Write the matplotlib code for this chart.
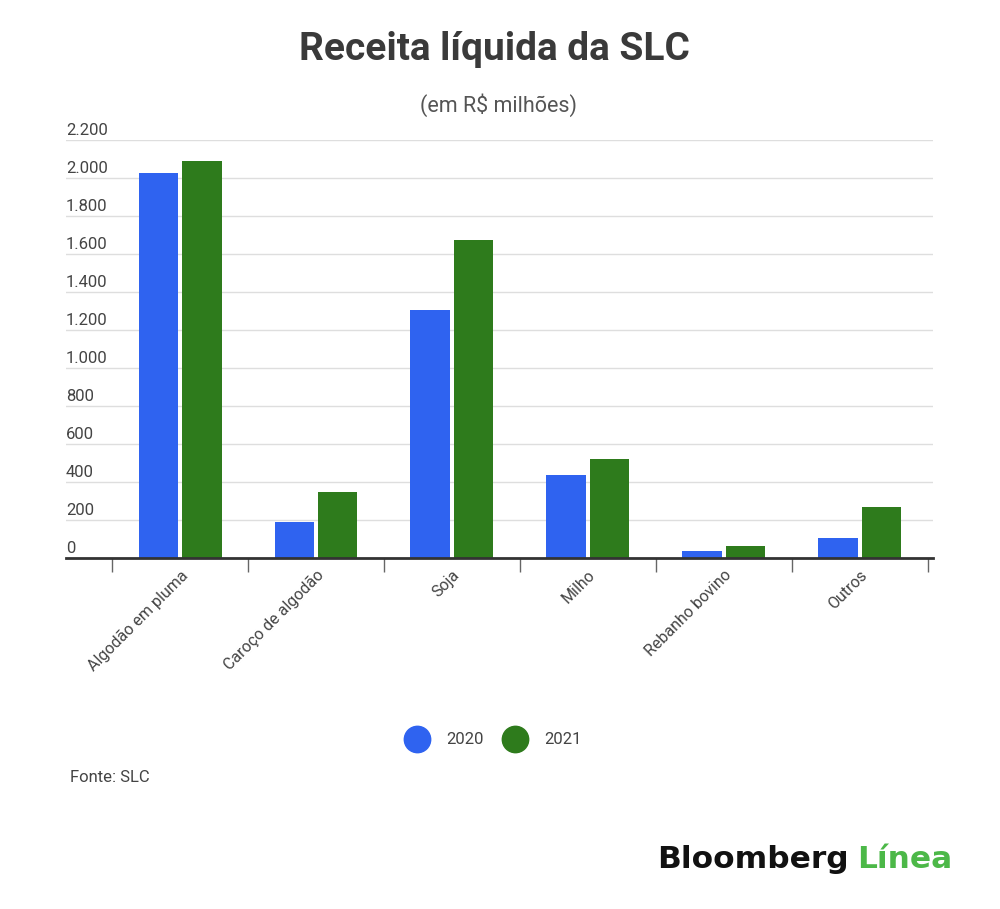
import matplotlib
matplotlib.use("Agg")
import matplotlib.pyplot as plt
from matplotlib.lines import Line2D
import matplotlib.transforms as mtransforms
import numpy as np

plt.rcParams['font.family'] = ['Roboto', 'DejaVu Sans']

categories = ["Algodão em pluma", "Caroço de algodão", "Soja", "Milho", "Rebanho bovino", "Outros"]
values_2020 = [2025, 191, 1306, 438, 35, 105]
values_2021 = [2090, 350, 1674, 522, 63, 268]
series_labels = ["2020", "2021"]
y_ticks = [0, 200, 400, 600, 800, 1000, 1200, 1400, 1600, 1800, 2000, 2200]
y_tick_labels = ["0", "200", "400", "600", "800", "1.000", "1.200", "1.400", "1.600", "1.800", "2.000", "2.200"]

BLUE = "#2F63F0"
GREEN = "#2E7B1C"
TEXT = "#444444"

W, H = 1000, 909
fig = plt.figure(figsize=(W / 100, H / 100), dpi=100)
fig.patch.set_facecolor("white")

left, right, bottom, top = 66, 933, 558, 140
ax = fig.add_axes([left / W, 1 - bottom / H, (right - left) / W, (bottom - top) / H])

x = np.arange(len(categories))
bw = 0.29
off = 0.16
ax.bar(x - off, values_2020, width=bw, color=BLUE, zorder=3)
ax.bar(x + off, values_2021, width=bw, color=GREEN, zorder=3)

ax.set_xlim(-0.84, 5.54)
ax.set_ylim(0, 2200)

for s in ["top", "right", "left"]:
    ax.spines[s].set_visible(False)
ax.spines["bottom"].set_color("#333333")
ax.spines["bottom"].set_linewidth(2)
ax.spines["bottom"].set_zorder(4)

# gridlines
ax.set_yticks(y_ticks)
ax.yaxis.grid(True, color="#dedede", linewidth=1, zorder=0)
ax.tick_params(axis="y", length=0, labelleft=False)
trans = mtransforms.blended_transform_factory(ax.transAxes, ax.transData)
for v, lab in zip(y_ticks, y_tick_labels):
    ax.annotate(lab, xy=(0, v), xycoords=trans, xytext=(0, 1.5), textcoords="offset points",
                ha="left", va="bottom", fontsize=12, color=TEXT)

# x ticks at boundaries, labels at centres
ax.set_xticks(np.arange(-0.5, len(categories), 1.0))
ax.set_xticklabels([])
ax.tick_params(axis="x", which="major", length=10, width=1, color="#666666", direction="out")
ax.set_xticks(x, minor=True)
ax.set_xticklabels(categories, minor=True, rotation=45, ha="right", va="top",
                   rotation_mode="anchor", fontsize=11.5, color=TEXT)
ax.tick_params(axis="x", which="minor", length=0, pad=7)

# title & subtitle
fig.text(0.494, 1 - 50 / H, "Receita líquida da SLC", ha="center", va="center",
         fontsize=28, fontweight="bold", color="#3a3a3a")
fig.text(0.499, 1 - 105 / H, "(em R$ milhões)", ha="center", va="center",
         fontsize=15.5, color="#555555")

# legend
handles = [Line2D([0], [0], marker="o", linestyle="", markersize=19, markerfacecolor=BLUE, markeredgecolor=BLUE),
           Line2D([0], [0], marker="o", linestyle="", markersize=19, markerfacecolor=GREEN, markeredgecolor=GREEN)]
fig.legend(handles, series_labels, loc="center", bbox_to_anchor=(0.491, 1 - 740 / H), ncol=2,
           frameon=False, fontsize=12, labelcolor=TEXT, handletextpad=0.75, columnspacing=0.9)

fig.text(70 / W, 1 - 778 / H, "Fonte: SLC", ha="left", va="center", fontsize=12, color=TEXT)

# logo
fig.text(849 / W, 1 - 860 / H, "Bloomberg", ha="right", va="center", fontsize=22.5,
         fontweight="bold", color="#111111", family="DejaVu Sans")
fig.text(857 / W, 1 - 860 / H, "Línea", ha="left", va="center", fontsize=22.5,
         fontweight="bold", color="#4CB848", family="DejaVu Sans")

fig.savefig("out.png", dpi=100, facecolor="white")
